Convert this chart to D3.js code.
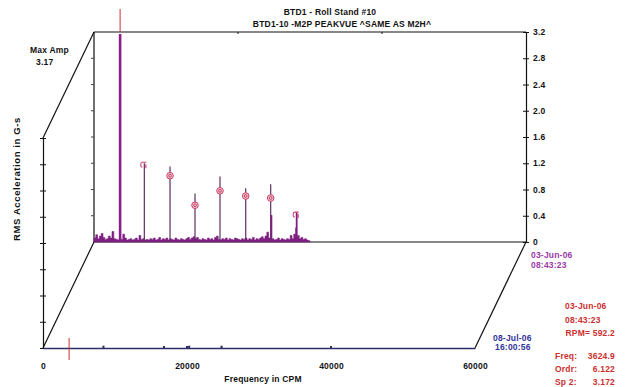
<!DOCTYPE html>
<html>
<head>
<meta charset="utf-8">
<script src="https://cdn.jsdelivr.net/npm/d3@7/dist/d3.min.js"></script>
<style>
  html, body { margin: 0; padding: 0; background: #fff; }
  svg { display: block; }
  text { font-family: "Liberation Sans", Arial, sans-serif; font-weight: bold; font-size: 8.5px; letter-spacing: 0.2px; }
</style>
</head>
<body>
<svg id="chart" width="627" height="387"></svg>
<script>
// ---- data ----
const fmax = 30000;            // spectrum span, CPM
const binStep = 250;           // CPM between noise points
// noise floor of the 03-Jun-06 spectrum (G-s), one value per bin from 0 CPM
const noiseBack = [
  0.06, 0.11, 0.05, 0.09, 0.13, 0.07, 0.04, 0.05, 0.09, 0.06,
  0.16, 0.05, 0.04, 0.03, 0.05, 0.04, 0.12, 0.06, 0.03, 0.04,
  0.05, 0.03, 0.04, 0.06, 0.03, 0.10, 0.04, 0.05, 0.03, 0.04,
  0.03, 0.05, 0.04, 0.06, 0.03, 0.04, 0.07, 0.03, 0.05, 0.04,
  0.06, 0.03, 0.05, 0.04, 0.03, 0.06, 0.04, 0.03, 0.05, 0.04,
  0.03, 0.05, 0.07, 0.04, 0.06, 0.08, 0.05, 0.07, 0.04, 0.03,
  0.05, 0.04, 0.03, 0.06, 0.04, 0.05, 0.03, 0.07, 0.09, 0.04,
  0.03, 0.05, 0.04, 0.06, 0.03, 0.05, 0.04, 0.03, 0.06, 0.05,
  0.04, 0.03, 0.05, 0.04, 0.06, 0.03, 0.05, 0.04, 0.07, 0.03,
  0.05, 0.04, 0.06, 0.08, 0.05, 0.09, 0.15, 0.06, 0.04, 0.05,
  0.03, 0.04, 0.06, 0.03, 0.05, 0.04, 0.03, 0.05, 0.04, 0.10,
  0.05, 0.12, 0.06, 0.10, 0.05, 0.07, 0.04, 0.05, 0.03, 0.02
];
// discrete peaks (CPM, G-s)
const peakFreqs = [3625, 6990, 10560, 14030, 17500, 21070, 24540, 24640, 28080, 28150];
const peakAmps  = [3.17, 1.20, 1.15, 0.74, 1.00, 0.82, 0.88, 0.41, 0.22, 0.45];
// harmonic markers
const markFreqs = [6990, 10560, 14030, 17500, 21070, 24540, 28150];
const markAmps  = [1.17, 1.01, 0.56, 0.78, 0.70, 0.67, 0.41];
const markTypes = ["c", "o", "o", "o", "o", "o", "c"];
// 08-Jul-06 spectrum: nearly flat, a few tiny bumps
const frontFreqs = [8400, 16800, 20300, 24800];
const frontAmps  = [0.02, 0.015, 0.02, 0.02];

const yTicks = [0, 0.4, 0.8, 1.2, 1.6, 2.0, 2.4, 2.8, 3.2];
const xTicks = [0, 20000, 40000, 60000];
const cursorFreq = 3624.9;

const title = "BTD1 - Roll Stand #10";
const subtitle = "BTD1-10  -M2P   PEAKVUE ^SAME AS M2H^";
const backDate = ["03-Jun-06", "08:43:23"];
const frontDate = ["08-Jul-06", "16:00:56"];
const infoDate = ["03-Jun-06", "08:43:23", "RPM= 592.2"];
const infoRows = [["Freq:", "3624.9"], ["Ordr:", "6.122"], ["Sp 2:", "3.172"]];

// ---- layout ----
const svg = d3.select("#chart");
const x0 = 94, x1 = 526, yTop = 32, yBase = 242;
const depth = { dx: -51, dy: 106 };   // back plane -> front plane offset

const x = d3.scaleLinear().domain([0, 60000]).range([x0, x1]);
const y = d3.scaleLinear().domain([0, 3.2]).range([yBase, yTop]);

const purple = "#7d1f80", navy = "#2c2c66", red = "#cc2f2f";

// frame lines
const frame = svg.append("g").attr("stroke", "#111").attr("stroke-width", 1.2).attr("fill", "none");
frame.append("line").attr("x1", x0).attr("y1", yTop).attr("x2", x1).attr("y2", yTop);
frame.append("line").attr("x1", x0).attr("y1", yTop).attr("x2", x0).attr("y2", yBase);
frame.append("line").attr("x1", x0).attr("y1", yBase).attr("x2", x1).attr("y2", yBase);
frame.append("line").attr("x1", x0).attr("y1", yTop).attr("x2", x0 + depth.dx).attr("y2", yTop + depth.dy);
frame.append("line").attr("x1", x0).attr("y1", yBase).attr("x2", x0 + depth.dx).attr("y2", yBase + depth.dy);
frame.append("line").attr("x1", x1).attr("y1", yBase).attr("x2", x1 + depth.dx).attr("y2", yBase + depth.dy);

// small ticks on top back line
svg.append("g").selectAll("line").data([20000, 40000]).join("line")
  .attr("x1", d => x(d)).attr("x2", d => x(d))
  .attr("y1", yTop).attr("y2", yTop + 2)
  .attr("stroke", "#111");

// back-plane left ticks
svg.append("g").selectAll("line").data(yTicks.slice(1, -1)).join("line")
  .attr("x1", x0 - 3).attr("x2", x0)
  .attr("y1", d => y(d)).attr("y2", d => y(d))
  .attr("stroke", "#444");

// right amplitude axis
const rightAxis = svg.append("g")
  .attr("transform", `translate(${x1},0)`)
  .call(d3.axisRight(y).tickValues(yTicks).tickSize(3).tickPadding(4)
    .tickFormat(d => d === 0 ? "0" : d3.format(".1f")(d)));
rightAxis.select(".domain").attr("stroke", "#111").attr("stroke-width", 1.2);
rightAxis.selectAll(".tick line").attr("x1", -3).attr("stroke", "#111");
rightAxis.selectAll(".tick text").attr("fill", "#111").attr("dy", "0.32em")
  .style("font-family", "'Liberation Sans', Arial, sans-serif").style("font-size", "8.5px");

// front-plane left axis
const leftAxis = svg.append("g")
  .attr("transform", `translate(${x0 + depth.dx},${depth.dy})`)
  .call(d3.axisLeft(y).tickValues(yTicks).tickSize(3).tickFormat(""));
leftAxis.select(".domain").attr("stroke", "#111").attr("stroke-width", 1.2);
leftAxis.selectAll(".tick line").attr("x1", -3).attr("x2", 3).attr("stroke", "#111");

// front-plane frequency axis
const front = svg.append("g").attr("transform", `translate(${depth.dx},${depth.dy})`);
const bottomAxis = front.append("g")
  .attr("transform", `translate(0,${yBase})`)
  .call(d3.axisBottom(x).tickValues(xTicks).tickSize(0).tickPadding(15).tickFormat(d3.format("d")));
bottomAxis.select(".domain").attr("stroke", navy).attr("stroke-width", 1.3);
bottomAxis.selectAll(".tick text").attr("fill", "#111")
  .style("font-family", "'Liberation Sans', Arial, sans-serif").style("font-size", "8.5px");
front.append("g").selectAll("rect").data([20000, 40000]).join("rect")
  .attr("x", d => x(d) - 1).attr("y", yBase - 2).attr("width", 2).attr("height", 2).attr("fill", navy);

// front spectrum (08-Jul-06)
front.append("g").selectAll("line").data(frontFreqs).join("line")
  .attr("x1", d => x(d)).attr("x2", d => x(d))
  .attr("y1", yBase).attr("y2", (d, i) => y(frontAmps[i]) - 1)
  .attr("stroke", navy).attr("stroke-width", 2);

// back spectrum (03-Jun-06): noise floor
const noisePts = noiseBack.map((a, i) => [i * binStep, a]);
const area = d3.area().x(d => x(d[0])).y0(yBase).y1(d => y(d[1])).curve(d3.curveStepAfter);
svg.append("path").datum(noisePts.concat([[fmax, 0]]))
  .attr("d", area).attr("fill", purple).attr("stroke", purple).attr("stroke-width", 0.6);

// peaks
svg.append("g").selectAll("line").data(peakFreqs).join("line")
  .attr("x1", d => x(d)).attr("x2", d => x(d))
  .attr("y1", yBase).attr("y2", (d, i) => y(peakAmps[i]))
  .attr("stroke", (d, i) => i === 0 ? "#8a1f8c" : (peakAmps[i] < 0.5 ? purple : "#5e2f62"))
  .attr("stroke-width", (d, i) => i === 0 ? 2.6 : (peakAmps[i] < 0.5 ? 1.8 : 1.2));

// harmonic markers
const marks = svg.append("g").selectAll("g").data(markFreqs).join("g")
  .attr("transform", (d, i) => `translate(${x(d)},${y(markAmps[i])})`);
marks.filter((d, i) => markTypes[i] === "o").append("circle")
  .attr("r", 3.3).attr("fill", "#f4c4d0").attr("stroke", "#d0406a").attr("stroke-width", 1);
marks.filter((d, i) => markTypes[i] === "o").append("circle")
  .attr("r", 1.4).attr("fill", "none").attr("stroke", "#b03050").attr("stroke-width", 0.8);
marks.filter((d, i) => markTypes[i] === "c").append("path")
  .attr("d", "M2,-3 L-2,-3 Q-3.5,-3 -3.5,-1 L-3.5,0 Q-3.5,2 -2,2 M1.5,-1 L1.5,3")
  .attr("fill", "none").attr("stroke", "#d0406a").attr("stroke-width", 1.1);

// cursors
const cursorX = x(cursorFreq);
svg.append("line").attr("x1", cursorX).attr("x2", cursorX).attr("y1", 9).attr("y2", yTop)
  .attr("stroke", red).attr("stroke-width", 1);
front.append("line").attr("x1", cursorX).attr("x2", cursorX).attr("y1", yBase - 10).attr("y2", yBase + 12)
  .attr("stroke", red).attr("stroke-width", 1);

// ---- texts ----
const t = (xp, yp, s, fill, anchor) => svg.append("text")
  .attr("x", xp).attr("y", yp).attr("fill", fill || "#111")
  .attr("text-anchor", anchor || "start").text(s);

t(330, 15, title, "#111", "middle");
t(342, 27, subtitle, "#111", "middle");
t(30, 53, "Max Amp");
t(36, 65, "3.17");
svg.append("text").attr("transform", "translate(20,179) rotate(-90)")
  .attr("text-anchor", "middle").attr("fill", "#111")
  .style("font-size", "9.5px").style("letter-spacing", "0.6px")
  .text("RMS Acceleration in G-s");
t(263, 382, "Frequency in CPM", "#111", "middle");

const backColor = "#9a3aa6";
t(531, 258, backDate[0], backColor);
t(531, 268, backDate[1], backColor);
const frontColor = "#333399";
t(493, 341, frontDate[0], frontColor);
t(495, 350, frontDate[1], frontColor);

t(565, 309, infoDate[0], red);
t(565, 323, infoDate[1], red);
t(615, 336, infoDate[2], red, "end");
infoRows.forEach((r, i) => {
  t(555, 359 + i * 13, r[0], red);
  t(615, 359 + i * 13, r[1], red, "end");
});
</script>
</body>
</html>
